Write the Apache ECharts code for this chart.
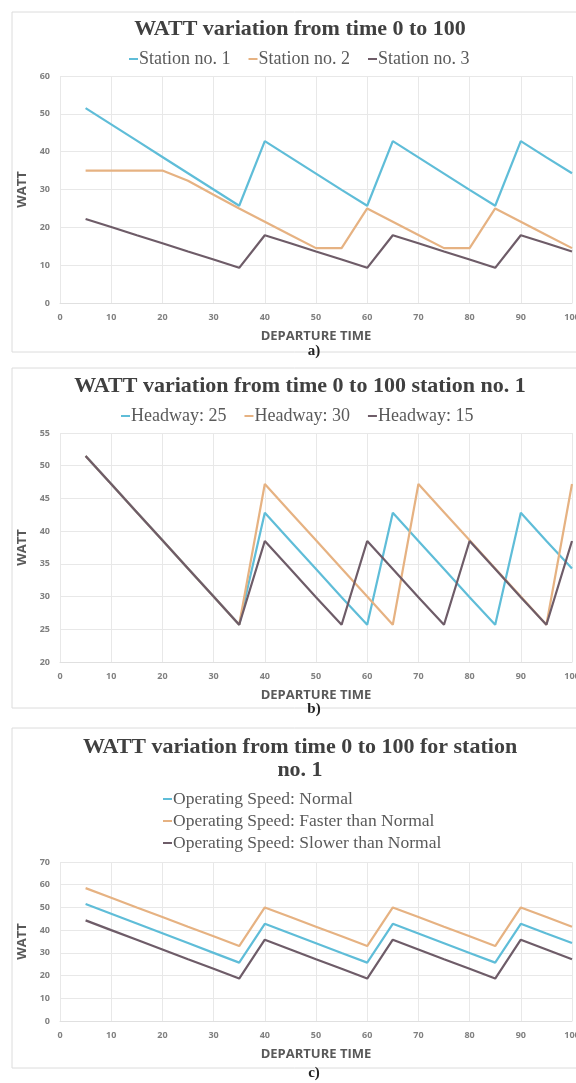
<!DOCTYPE html>
<html><head><meta charset="utf-8">
<script src="https://cdn.jsdelivr.net/npm/echarts@6/dist/echarts.min.js"></script>
<style>html,body{margin:0;padding:0;background:#fff}#c{width:576px;height:1083px}</style>
</head><body><div id="c"></div>
<script>
const times = [5,10,15,20,25,30,35,40,45,50,55,60,65,70,75,80,85,90,95,100];
// Chart a
const station1 = [51.5,47.2,42.9,38.6,34.3,30.0,25.7,42.8,38.5,34.2,29.9,25.7,42.8,38.5,34.2,29.9,25.7,42.8,38.5,34.3];
const station2 = [35.0,35.0,35.0,35.0,32.3,28.6,25.0,21.5,18.0,14.5,14.5,25.0,21.5,18.0,14.5,14.5,25.0,21.5,18.0,14.5];
const station3 = [22.2,20.1,17.9,15.8,13.6,11.5,9.3,17.9,15.8,13.6,11.5,9.3,17.9,15.8,13.6,11.5,9.3,17.9,15.8,13.6];
// Chart b
const headway25 = [51.5,47.2,42.9,38.6,34.3,30.0,25.7,42.8,38.5,34.2,29.9,25.7,42.8,38.5,34.2,29.9,25.7,42.8,38.5,34.3];
const headway30 = [51.5,47.2,42.9,38.6,34.3,30.0,25.7,47.2,42.9,38.6,34.3,30.0,25.7,47.2,42.9,38.6,34.3,30.0,25.7,47.2];
const headway15 = [51.5,47.2,42.9,38.6,34.3,30.0,25.7,38.5,34.2,29.9,25.7,38.5,34.2,29.9,25.7,38.5,34.2,29.9,25.7,38.5];
// Chart c
const speedNormal = [51.5,47.2,42.9,38.6,34.3,30.0,25.7,42.8,38.5,34.2,29.9,25.7,42.8,38.5,34.2,29.9,25.7,42.8,38.5,34.3];
const speedFaster = [58.5,54.3,50.0,45.8,41.5,37.3,33.0,50.0,45.8,41.5,37.3,33.0,50.0,45.8,41.5,37.3,33.0,50.0,45.8,41.5];
const speedSlower = [44.3,40.0,35.8,31.5,27.2,23.0,18.7,35.8,31.5,27.2,23.0,18.7,35.8,31.5,27.2,23.0,18.7,35.8,31.5,27.2];

const titles = ['WATT variation from time 0 to 100','WATT variation from time 0 to 100 station no. 1','WATT variation from time 0 to 100 for station\nno. 1'];
const namesA = ['Station no. 1','Station no. 2','Station no. 3'];
const namesB = ['Headway: 25','Headway: 30','Headway: 15'];
const namesC = ['Operating Speed: Normal','Operating Speed: Faster than Normal','Operating Speed: Slower than Normal'];
const panelLabels = ['a)','b)','c)'];
const yRanges = [[0,60,10],[20,55,5],[0,70,10]];

const colors = ['#5fbdd8','#e6b282','#6e5c68'];
const seriesSets = [[station1,station2,station3],[headway25,headway30,headway15],[speedNormal,speedFaster,speedSlower]];
const nameSets = [namesA,namesB,namesC];

const grids = [
  {left:60,right:4,top:76,height:227,outerBoundsMode:'none',containLabel:false},
  {left:60,right:4,top:433,height:229,outerBoundsMode:'none',containLabel:false},
  {left:60,right:4,top:862,height:159,outerBoundsMode:'none',containLabel:false}
];
const titleTops = [13,370,731];
const legendTops = [45,402,785];
const legendLefts = [124,116,158];
const boxes = [[12,12,352-12],[12,368,708-368],[12,728,1068-728]];
const labelTops = [344,702,1066];

const axisLabelStyle = {color:'#808080',fontSize:9,fontFamily:'Open Sans',fontWeight:'bold'};
const axisNameStyle = {color:'#595959',fontSize:13,fontFamily:'Open Sans',fontWeight:'bold'};
const splitLine = {show:true,lineStyle:{color:'#e8e8e8',width:1}};

const option = {
  animation:false,
  backgroundColor:'#fff',
  title: titles.map((t,i)=>({text:t,left:295,textAlign:'center',top:titleTops[i],
    textStyle:{fontFamily:'Liberation Serif',fontWeight:'bold',fontSize:22,color:'#404040',lineHeight:23}})),
  legend: nameSets.map((ns,i)=>({data:ns, top:legendTops[i],
    left: legendLefts[i], orient: i===2 ? 'vertical':'horizontal',
    icon:'rect', itemWidth:9, itemHeight:2, itemGap: i===2 ? 4 : 18,
    textStyle:{fontFamily:'Liberation Serif',fontSize: i===2 ? 17.5 : 18,color:'#5a5a5a',padding:[0,0,0,-4]}})),
  grid: grids,
  xAxis: grids.map((g,i)=>({type:'value',gridIndex:i,min:0,max:100,interval:10,
    name:'DEPARTURE TIME',nameLocation:'middle',nameGap:27,nameTextStyle:axisNameStyle,
    axisLine:{show:true,lineStyle:{color:'#e0e0e0'}},axisTick:{show:false},
    axisLabel:Object.assign({margin:10},axisLabelStyle),splitLine:splitLine})),
  yAxis: grids.map((g,i)=>({type:'value',gridIndex:i,min:yRanges[i][0],max:yRanges[i][1],interval:yRanges[i][2],
    name:'WATT',nameLocation:'middle',nameGap:16,nameTextStyle:axisNameStyle,
    axisLine:{show:false},axisTick:{show:false},
    axisLabel:Object.assign({margin:10},axisLabelStyle),splitLine:splitLine})),
  series: [],
  graphic: []
};
seriesSets.forEach((set,i)=>{
  set.forEach((vals,j)=>{
    option.series.push({type:'line',name:nameSets[i][j],xAxisIndex:i,yAxisIndex:i,
      data:times.map((t,k)=>[t,vals[k]]),symbol:'none',color:colors[j],
      lineStyle:{width:2.2,color:colors[j]}});
  });
});
boxes.forEach((b,i)=>{
  option.graphic.push({type:'rect',z:-1,shape:{x:b[0],y:b[1],width:600,height:b[2]},
    style:{fill:'#fff',stroke:'#dcdcdc',lineWidth:1}});
  option.graphic.push({type:'text',x:314,y:labelTops[i],
    style:{text:panelLabels[i],font:'bold 15px "Liberation Serif"',fill:'#222',textAlign:'center'}});
});
const chart = echarts.init(document.getElementById('c'));
chart.setOption(option);
</script></body></html>
